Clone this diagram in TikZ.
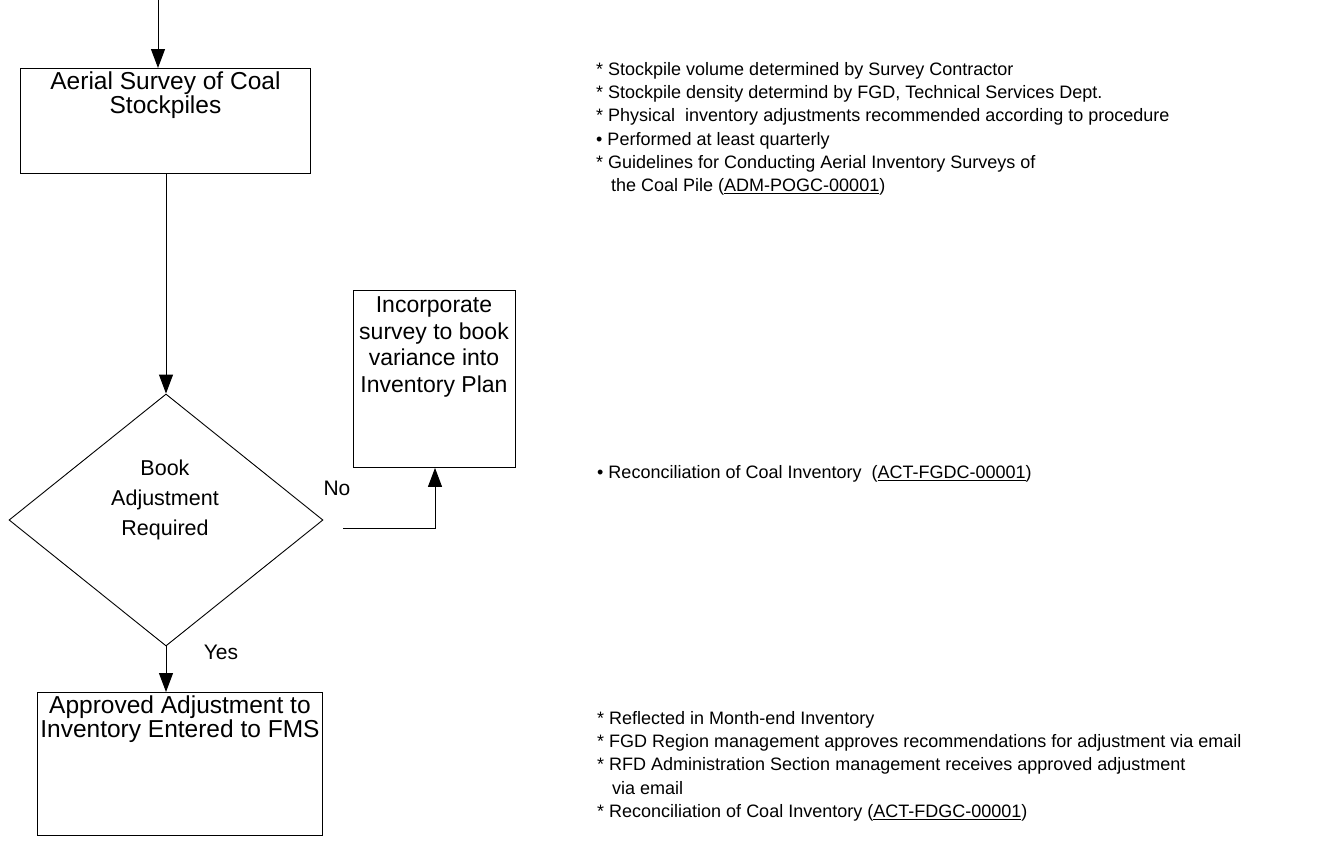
\documentclass[tikz,border=0pt]{standalone}
\usepackage{fontspec}
\setmainfont{Liberation Sans}
\usetikzlibrary{shapes.geometric,arrows.meta}
\begin{document}
\begin{tikzpicture}[x=1pt,y=-1pt,
  flow/.style={draw, line width=1pt, -{Triangle[length=19pt,width=14pt]}},
  procbox/.style={draw, line width=0.9pt, inner sep=0pt},
  boxtext/.style={font=\fontsize{24.5}{24}\selectfont, align=center, inner sep=0pt},
  decision/.style={draw, line width=0.9pt, diamond, inner sep=0pt,
    minimum width=314pt, minimum height=252pt},
  note/.style={anchor=west, font=\fontsize{18}{23.3}\selectfont, align=left, inner sep=0pt},
  branch/.style={font=\fontsize{21}{24}\selectfont, inner sep=0pt},
]
\useasboundingbox (0,0) rectangle (1329,857);

% process boxes
\node[procbox, minimum width=290pt, minimum height=105pt, anchor=north west] (survey) at (20,68) {};
\node[boxtext, anchor=north] (surveytxt) at ([yshift=-4pt]survey.north) {Aerial Survey of Coal\\Stockpiles};

\node[decision] (decide) at (166,520) {};
\node[boxtext, font=\fontsize{21.5}{30}\selectfont] (decidetxt) at (165,500) {Book\\Adjustment\\Required};

\node[procbox, minimum width=162pt, minimum height=177pt, anchor=north west] (incorp) at (353,290) {};
\node[boxtext, font=\fontsize{23}{26.7}\selectfont] (incorptxt) at (434,347) {Incorporate\\survey to book\\variance into\\Inventory Plan};

\node[procbox, minimum width=285pt, minimum height=143pt, anchor=north west] (approve) at (37,692) {};
\node[boxtext, anchor=north] (approvetxt) at ([yshift=-4pt]approve.north) {Approved Adjustment to\\Inventory Entered to FMS};

% connectors
\coordinate (entry) at (158,0);
\draw[flow] (entry) -- (entry |- survey.north);
\draw[flow] (survey.south -| decide.north) -- (decide.north);

\coordinate (nostart) at (343,528);
\coordinate (noturn) at (435,528);
\draw[flow] (nostart) -- (noturn) -- (noturn |- incorp.south);
\node[branch] (nolabel) at (337,488) {No};

\draw[flow] (decide.south) -- (decide.south |- approve.north);
\node[branch] (yeslabel) at (221,652) {Yes};

% notes
\node[note, anchor=north west] (notesurvey) at (596,62) {%
* Stockpile volume determined by Survey Contractor\\
* Stockpile density determind by FGD, Technical Services Dept.\\
* Physical\ \ inventory adjustments recommended according to procedure\\
• Performed at least quarterly\\
* Guidelines for Conducting Aerial Inventory Surveys of\\
\ \ \ the Coal Pile (\underline{ADM-POGC-00001})};

\node[note] (notereconcile) at (597,474) {• Reconciliation of Coal Inventory\ \ (\underline{ACT-FGDC-00001})};

\node[note, anchor=north west] (noteapprove) at (597,711) {%
* Reflected in Month-end Inventory\\
* FGD Region management approves recommendations for adjustment via email\\
* RFD Administration Section management receives approved adjustment\\
\ \ \ via email\\
* Reconciliation of Coal Inventory (\underline{ACT-FDGC-00001})};
\end{tikzpicture}
\end{document}
